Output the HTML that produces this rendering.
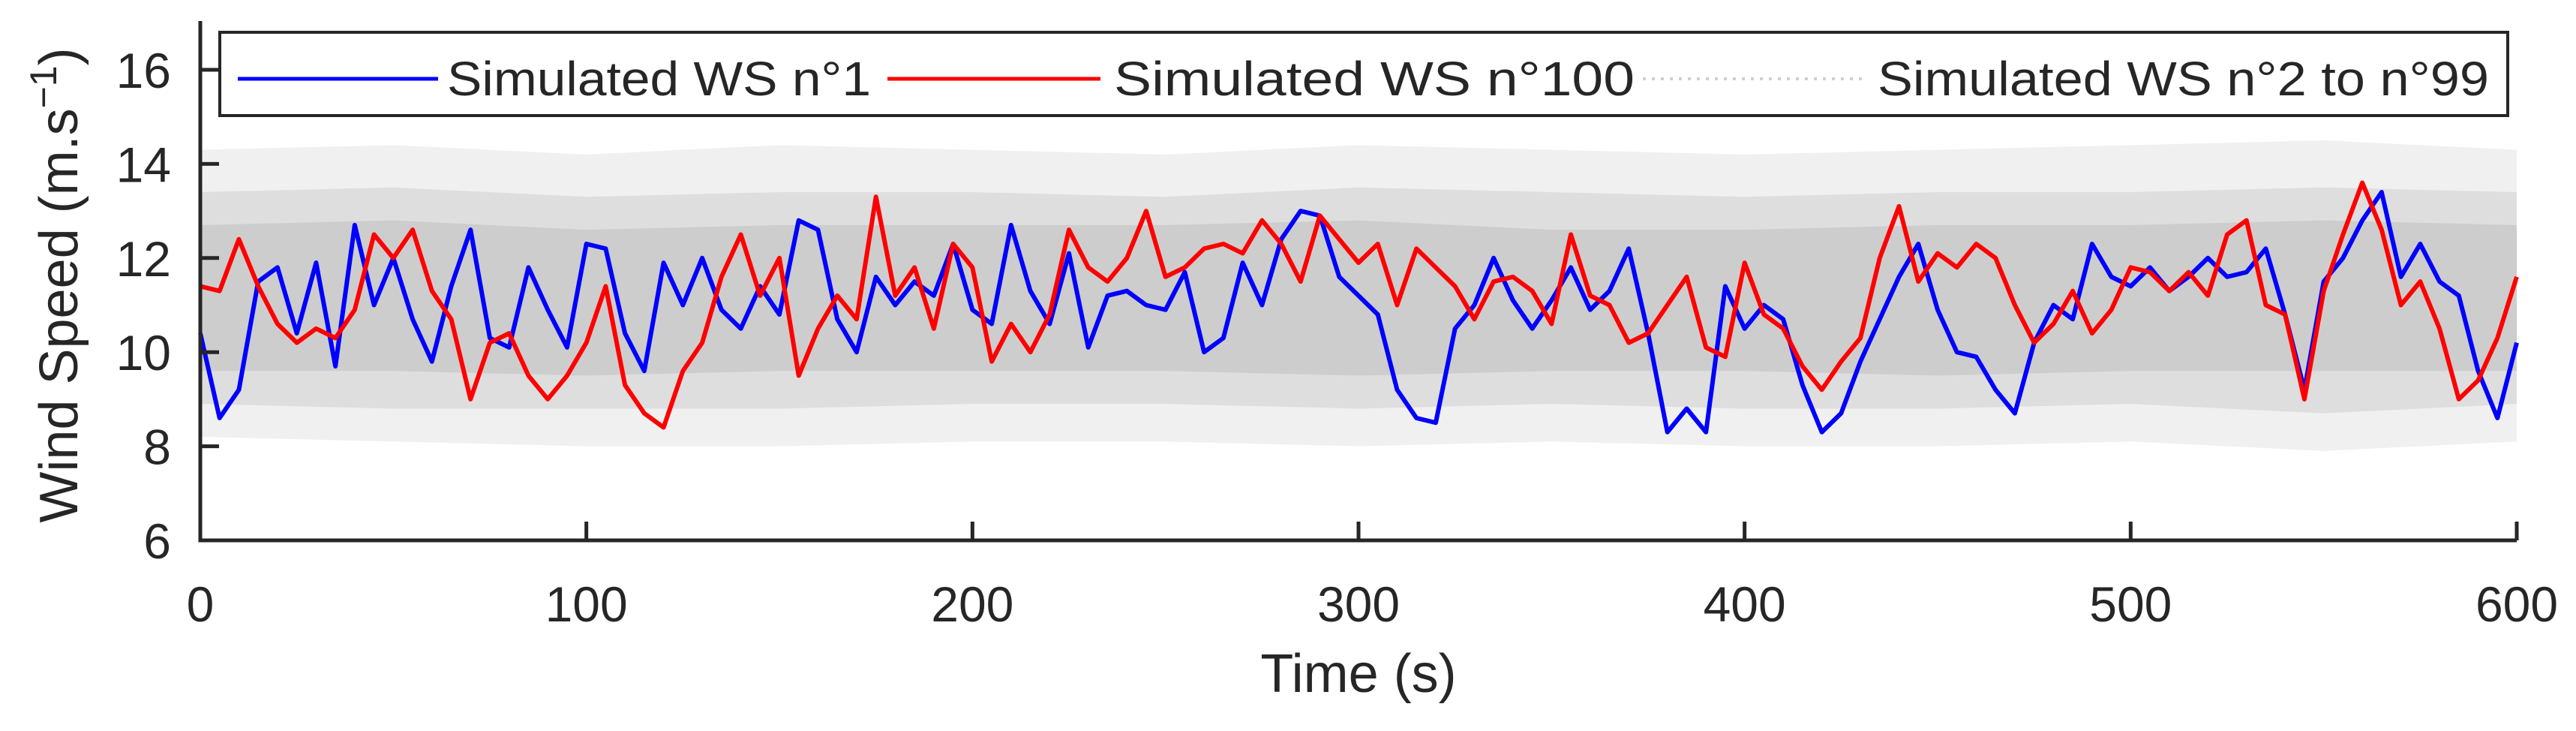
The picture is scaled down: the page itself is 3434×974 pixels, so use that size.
<!DOCTYPE html>
<html><head><meta charset="utf-8"><style>
html,body{margin:0;padding:0;background:#fff;}
svg{display:block;font-family:"Liberation Sans",Arial,sans-serif;}
</style></head><body>
<svg id="chart" width="3434" height="974" viewBox="0 0 3434 974" xmlns="http://www.w3.org/2000/svg">
<g id="gray"></g>
<g id="lines"></g>
<g id="axes"></g>
<g id="legend">
<rect x="293" y="43" width="3050" height="111" fill="#fff" stroke="#262626" stroke-width="4"/>
<line x1="317" y1="105" x2="584" y2="105" stroke="#0000ff" stroke-width="5"/>
<text x="596" y="127" font-size="64" fill="#262626" textLength="565" lengthAdjust="spacingAndGlyphs">Simulated WS n°1</text>
<line x1="1183" y1="105" x2="1467" y2="105" stroke="#ff0000" stroke-width="5"/>
<text x="1485" y="127" font-size="64" fill="#262626" textLength="694" lengthAdjust="spacingAndGlyphs">Simulated WS n°100</text>
<line x1="2190" y1="105" x2="2486" y2="105" stroke="#d0d0d0" stroke-width="4" stroke-dasharray="4 8"/>
<text x="2503" y="127" font-size="64" fill="#262626" textLength="815" lengthAdjust="spacingAndGlyphs">Simulated WS n°2 to n°99</text>
</g>
<text x="1811" y="922" font-size="72" fill="#262626" text-anchor="middle">Time (s)</text>
<text transform="translate(103,380) rotate(-90)" font-size="72" fill="#262626" text-anchor="middle">Wind Speed (m.s<tspan font-size="50" dy="-28">−1</tspan><tspan dy="28">)</tspan></text>
</svg>
<script>
const timesS = [0,5,10,15,20,25,30,35,40,45,50,55,60,65,70,75,80,85,90,95,100,105,110,115,120,125,130,135,140,145,150,155,160,165,170,175,180,185,190,195,200,205,210,215,220,225,230,235,240,245,250,255,260,265,270,275,280,285,290,295,300,305,310,315,320,325,330,335,340,345,350,355,360,365,370,375,380,385,390,395,400,405,410,415,420,425,430,435,440,445,450,455,460,465,470,475,480,485,490,495,500,505,510,515,520,525,530,535,540,545,550,555,560,565,570,575,580,585,590,595,600];
const ws1 = [10.4,8.6,9.2,11.5,11.8,10.4,11.9,9.7,12.7,11.0,12.0,10.7,9.8,11.4,12.6,10.3,10.1,11.8,10.9,10.1,12.3,12.2,10.4,9.6,11.9,11.0,12.0,10.9,10.5,11.4,10.8,12.8,12.6,10.7,10.0,11.6,11.0,11.5,11.2,12.3,10.9,10.6,12.7,11.3,10.6,12.1,10.1,11.2,11.3,11.0,10.9,11.7,10.0,10.3,11.9,11.0,12.4,13.0,12.9,11.6,11.2,10.8,9.2,8.6,8.5,10.5,11.0,12.0,11.1,10.5,11.1,11.8,10.9,11.3,12.2,10.4,8.3,8.8,8.3,11.4,10.5,11.0,10.7,9.3,8.3,8.7,9.8,10.7,11.6,12.3,10.9,10.0,9.9,9.2,8.7,10.2,11.0,10.7,12.3,11.6,11.4,11.8,11.3,11.6,12.0,11.6,11.7,12.2,10.8,9.2,11.5,12.0,12.8,13.4,11.6,12.3,11.5,11.2,9.6,8.6,10.2];
const ws100 = [11.4,11.3,12.4,11.4,10.6,10.2,10.5,10.3,10.9,12.5,12.0,12.6,11.3,10.7,9.0,10.2,10.4,9.5,9.0,9.5,10.2,11.4,9.3,8.7,8.4,9.6,10.2,11.6,12.5,11.2,12.0,9.5,10.5,11.2,10.7,13.3,11.2,11.8,10.5,12.3,11.8,9.8,10.6,10.0,10.8,12.6,11.8,11.5,12.0,13.0,11.6,11.8,12.2,12.3,12.1,12.8,12.3,11.5,12.9,12.4,11.9,12.3,11.0,12.2,11.8,11.4,10.7,11.5,11.6,11.3,10.6,12.5,11.2,11.0,10.2,10.4,11.0,11.6,10.1,9.9,11.9,10.8,10.5,9.7,9.2,9.8,10.3,12.0,13.1,11.5,12.1,11.8,12.3,12.0,11.0,10.2,10.6,11.3,10.4,10.9,11.8,11.7,11.3,11.7,11.2,12.5,12.8,11.0,10.8,9.0,11.3,12.5,13.6,12.6,11.0,11.5,10.5,9.0,9.4,10.3,11.6];
const grayT = [0,50,100,150,200,250,300,350,400,450,500,550,600];
const grayOuterHigh = [14.3,14.4,14.2,14.4,14.3,14.2,14.4,14.3,14.2,14.3,14.4,14.5,14.3];
const grayMidHigh = [13.4,13.5,13.3,13.4,13.4,13.3,13.5,13.4,13.3,13.4,13.4,13.5,13.4];
const grayCoreHigh = [12.7,12.8,12.6,12.7,12.7,12.7,12.8,12.6,12.6,12.7,12.7,12.8,12.7];
const grayCoreLow = [9.6,9.6,9.5,9.6,9.6,9.6,9.5,9.6,9.6,9.5,9.6,9.6,9.6];
const grayMidLow = [8.9,8.8,8.8,8.8,8.9,8.9,8.8,8.9,8.8,8.8,8.9,8.7,8.9];
const grayOuterLow = [8.2,8.1,8.0,8.0,8.1,8.1,8.0,8.1,8.0,8.0,8.1,7.9,8.1];
const xTicks = [0,100,200,300,400,500,600];
const yTicks = [6,8,10,12,14,16];

const NS = "http://www.w3.org/2000/svg";
const L = 267, R = 3355, T = 28, B = 720;
const xS = t => L + (t / 600) * (R - L);
const yS = v => B - (v - 6) * 62.7;
function mk(tag, attrs, parent) {
  const e = document.createElementNS(NS, tag);
  for (const k in attrs) e.setAttribute(k, attrs[k]);
  parent.appendChild(e);
  return e;
}
const gray = document.getElementById('gray');
function band(lo, hi, fill, name) {
  let d = grayT.map((t, i) => (i ? 'L' : 'M') + xS(t) + ' ' + yS(hi[i])).join(' ');
  for (let i = grayT.length - 1; i >= 0; i--) d += ' L' + xS(grayT[i]) + ' ' + yS(lo[i]);
  const p = mk('path', {d: d + ' Z', fill: fill}, gray);
  
  
}
band(grayOuterLow, grayOuterHigh, '#f0f0f0', 'gray-band-outer');
band(grayMidLow, grayMidHigh, '#dedede', 'gray-band-mid');
band(grayCoreLow, grayCoreHigh, '#cdcdcd', 'gray-band-core');

const lines = document.getElementById('lines');
function series(vals, color, name) {
  const pts = vals.map((v, i) => xS(timesS[i]) + ',' + yS(v)).join(' ');
  const p = mk('polyline', {points: pts, fill: 'none', stroke: color, 'stroke-width': 6, 'stroke-linejoin': 'round'}, lines);
  
  
}
series(ws1, '#0000ff', 'line-ws1');
series(ws100, '#ff0000', 'line-ws100');

const axes = document.getElementById('axes');
const ax = mk('path', {d: `M${L} ${T} L${L} ${B} L${R} ${B}`, fill: 'none', stroke: '#262626', 'stroke-width': 5}, axes);


xTicks.forEach(t => {
  const tk = mk('line', {x1: xS(t), x2: xS(t), y1: B, y2: B - 25, stroke: '#262626', 'stroke-width': 5}, axes);
  
  
  const tx = mk('text', {x: xS(t), y: B + 108, 'font-size': 66, fill: '#262626', 'text-anchor': 'middle'}, axes);
  tx.textContent = t;
  
  
});
yTicks.forEach(v => {
  const tk = mk('line', {x1: L, x2: L + 25, y1: yS(v), y2: yS(v), stroke: '#262626', 'stroke-width': 5}, axes);
  
  
  const tx = mk('text', {x: 228, y: yS(v) + 24, 'font-size': 66, fill: '#262626', 'text-anchor': 'end'}, axes);
  tx.textContent = v;
  
  
});
</script>
</body></html>
